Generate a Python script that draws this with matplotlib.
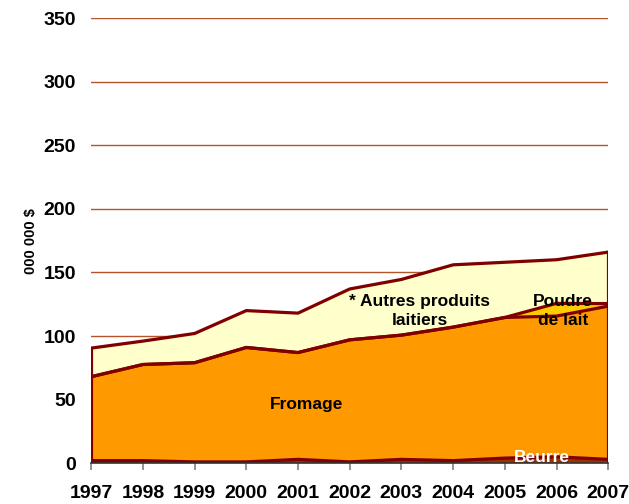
import matplotlib
matplotlib.use("Agg")
import matplotlib.pyplot as plt
import numpy as np

years = [1997, 1998, 1999, 2000, 2001, 2002, 2003, 2004, 2005, 2006, 2007]
beurre = [2, 2, 1, 1, 3, 1, 3, 2, 4, 5, 3]
fromage = [66, 75.6, 78, 90, 84, 96, 97.7, 105, 110.6, 110.7, 120.5]
poudre = [0, 0, 0, 0, 0, 0, 0, 0, 0, 10, 2]
autres = [22.5, 18.4, 23, 29, 31, 40, 43.8, 49, 43.4, 34.3, 40.5]
yticks = [0, 50, 100, 150, 200, 250, 300, 350]

plt.rcParams['font.family'] = ['Liberation Sans', 'DejaVu Sans']

fig = plt.figure(figsize=(6.29, 5.04), dpi=100)
ax = fig.add_axes([0.145, 0.081, 0.822, 0.883])

x = np.array(years)
layers = [beurre, fromage, poudre, autres]
colors = ['#993300', '#FF9900', '#FFCC00', '#FFFFCC']
edge = '#800000'

for yv in yticks[1:]:
    ax.axhline(yv, color='#B5532A', lw=1.0, zorder=0)

base = np.zeros(len(x))
tops = []
for vals, c in zip(layers, colors):
    top = base + np.array(vals, dtype=float)
    ax.fill_between(x, base, top, facecolor=c, edgecolor='none', zorder=2)
    tops.append(top)
    base = top

for top in tops:
    ax.plot(x, top, color=edge, lw=2.3, zorder=3, solid_joinstyle='miter')
total = tops[-1]
ax.plot([x[0], x[0]], [0, total[0]], color=edge, lw=2.3, zorder=3)
ax.plot([x[-1], x[-1]], [0, total[-1]], color=edge, lw=2.3, zorder=3)

ax.set_xlim(1997, 2007)
ax.set_ylim(0, 350)
ax.set_yticks(yticks)
ax.set_xticks(years)
ax.set_xticklabels([str(y) for y in years], fontsize=14, fontweight='bold')
ax.set_yticklabels([str(v) for v in yticks], fontsize=14, fontweight='bold')
ax.tick_params(axis='y', length=0, pad=11)
ax.tick_params(axis='x', length=5, color='#808080', width=1.2, pad=11)
for s in ['top', 'right', 'left']:
    ax.spines[s].set_visible(False)
ax.spines['bottom'].set_color('#333333')
ax.spines['bottom'].set_linewidth(1.2)
ax.spines['bottom'].set_zorder(4)

ax.set_ylabel('000 000 $', fontsize=10.5, fontweight='bold', labelpad=4)

ax.text(2003.35, 119.5, '* Autres produits\nlaitiers', ha='center', va='center',
        fontsize=12.5, fontweight='bold', zorder=5, linespacing=1.3)
ax.text(2006.13, 119.5, 'Poudre\nde lait', ha='center', va='center',
        fontsize=12.5, fontweight='bold', zorder=5, linespacing=1.3)
ax.text(2001.16, 46.4, 'Fromage', ha='center', va='center',
        fontsize=12.5, fontweight='bold', zorder=5)
ax.text(2005.72, 4.7, 'Beurre', ha='center', va='center', color='white',
        fontsize=12.5, fontweight='bold', zorder=5)

fig.savefig('out.png', dpi=100)
